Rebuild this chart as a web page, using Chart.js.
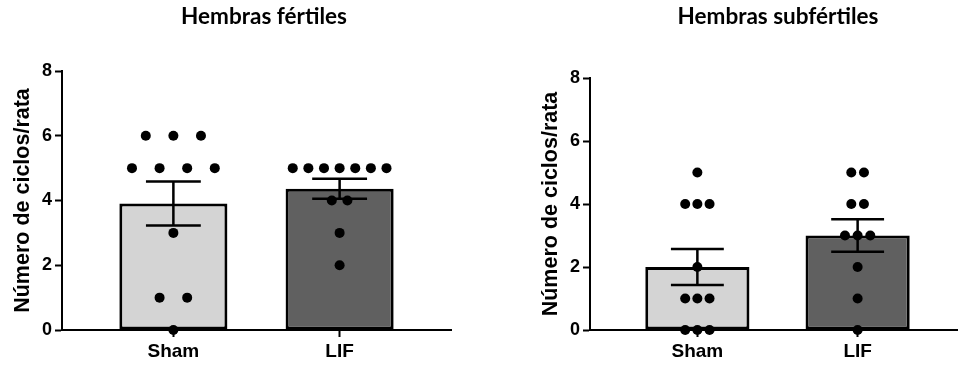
<!DOCTYPE html>
<html>
<head>
<meta charset="utf-8">
<script src="https://cdn.jsdelivr.net/npm/chart.js@4.4.1/dist/chart.umd.min.js"></script>
<style>
  html, body { margin: 0; padding: 0; width: 958px; height: 366px; overflow: hidden; background: #fff; }
  .panel { position: absolute; top: 0; height: 366px; }
  #left { left: 0; width: 528px; }
  #right { left: 479px; width: 598px; }
</style>
</head>
<body>
<div class="panel" id="left"><canvas id="c1" width="528" height="366"></canvas></div>
<div class="panel" id="right"><canvas id="c2" width="598" height="366"></canvas></div>
<script>
// Grupos y marcas del eje Y
const categories = ['Sham', 'LIF'];
const yTicks = [0, 2, 4, 6, 8];

// Número de ciclos por rata (un valor por animal)
const fertilSham = [6, 6, 6, 5, 5, 5, 5, 3, 1, 1, 0];
const fertilLIF = [5, 5, 5, 5, 5, 5, 5, 4, 4, 3, 2];
const subfertilSham = [5, 4, 4, 4, 2, 1, 1, 1, 0, 0, 0];
const subfertilLIF = [5, 5, 4, 4, 3, 3, 3, 2, 1, 0];

const barColors = ['#d4d4d4', '#606060'];
const FONT = "'Liberation Sans', Arial, sans-serif";

function mean(a) { return a.reduce((s, v) => s + v, 0) / a.length; }
function sem(a) {
  const m = mean(a);
  const v = a.reduce((s, x) => s + (x - m) * (x - m), 0) / (a.length - 1);
  return Math.sqrt(v / a.length);
}

// Reparte horizontalmente los puntos con el mismo valor alrededor del centro del grupo
function spreadPoints(values, center, step) {
  const counts = {};
  values.forEach(v => { counts[v] = (counts[v] || 0) + 1; });
  const seen = {};
  return values.map(v => {
    const k = seen[v] = (seen[v] || 0) + 1;
    return { x: center + (k - 1 - (counts[v] - 1) / 2) * step, y: v };
  });
}

function drawPanel(canvasId, titleText, groups, layout) {
  const means = groups.map(mean);
  const sems = groups.map(sem);
  const capHalf = 0.165;

  const errData = [];
  means.forEach((m, i) => {
    const hi = m + sems[i], lo = m - sems[i];
    errData.push({ x: i - capHalf, y: hi }, { x: i + capHalf, y: hi }, { x: i, y: null },
                 { x: i, y: hi }, { x: i, y: lo }, { x: i, y: null },
                 { x: i - capHalf, y: lo }, { x: i + capHalf, y: lo }, { x: i, y: null });
  });

  const dots = [];
  groups.forEach((g, i) => dots.push(...spreadPoints(g, i, layout.dotStep[i])));

  new Chart(document.getElementById(canvasId), {
    type: 'bar',
    data: {
      datasets: [
        {
          type: 'bar',
          data: means.map((m, i) => ({ x: i, y: m })),
          backgroundColor: barColors,
          borderColor: '#000',
          borderWidth: 3,
          borderSkipped: false,
          barPercentage: 0.65,
          categoryPercentage: 1,
          order: 3
        },
        {
          type: 'line',
          data: errData,
          borderColor: '#000',
          borderWidth: 2.5,
          pointRadius: 0,
          spanGaps: false,
          fill: false,
          tension: 0,
          order: 2
        },
        {
          type: 'scatter',
          data: dots,
          backgroundColor: '#000',
          borderWidth: 0,
          pointRadius: 5,
          clip: false,
          order: 1
        }
      ]
    },
    options: {
      responsive: false,
      animation: false,
      devicePixelRatio: 1,
      layout: { padding: 0 },
      plugins: {
        legend: { display: false },
        tooltip: { enabled: false },
        title: {
          display: true,
          text: titleText,
          color: '#000',
          font: { family: "Lato, 'Open Sans', sans-serif", size: 22.5, weight: 'bold', lineHeight: 1.2 },
          padding: { top: 3, bottom: layout.titleGap }
        }
      },
      scales: {
        x: {
          type: 'linear',
          offset: false,
          min: -0.67,
          max: 1.67,
          afterBuildTicks: ax => { ax.ticks = categories.map((_, i) => ({ value: i })); },
          ticks: {
            callback: v => categories[v],
            color: '#000',
            font: { family: FONT, size: 19, weight: 'bold' },
            padding: 3,
            autoSkip: false,
            maxRotation: 0
          },
          grid: { offset: false, drawOnChartArea: false, drawTicks: true, tickLength: 7, tickWidth: 2, tickColor: '#000' },
          border: { display: true, color: '#000', width: 2 },
          afterFit: s => { s.height = 36; }
        },
        y: {
          type: 'linear',
          position: 'left',
          min: 0,
          max: 8,
          afterBuildTicks: ax => { ax.ticks = yTicks.map(v => ({ value: v })); },
          ticks: {
            color: '#000',
            font: { family: FONT, size: 18, weight: 'bold' },
            padding: 3
          },
          grid: { drawOnChartArea: false, drawTicks: true, tickLength: 7, tickWidth: 2, tickColor: '#000' },
          border: { display: true, color: '#000', width: 2 },
          title: {
            display: true,
            text: 'Número de ciclos/rata',
            color: '#000',
            font: { family: FONT, size: 21.5, weight: 'bold', lineHeight: 1.2 },
            padding: { top: layout.yTitlePad, bottom: 0 }
          },
          afterFit: s => { s.width = layout.axisWidth; }
        },
        gap: {
          type: 'linear',
          position: 'right',
          display: true,
          ticks: { display: false },
          grid: { display: false },
          border: { display: false },
          afterFit: s => { s.width = layout.rightGap; }
        }
      }
    }
  });
}

drawPanel('c1', 'Hembras fértiles', [fertilSham, fertilLIF],
  { axisWidth: 62, rightGap: 77, titleGap: 41, yTitlePad: 10.5, dotStep: [0.166, 0.094] });
drawPanel('c2', 'Hembras subfértiles', [subfertilSham, subfertilLIF],
  { axisWidth: 111, rightGap: 112, titleGap: 48, yTitlePad: 59.5, dotStep: [0.076, 0.079] });
</script>
</body>
</html>
